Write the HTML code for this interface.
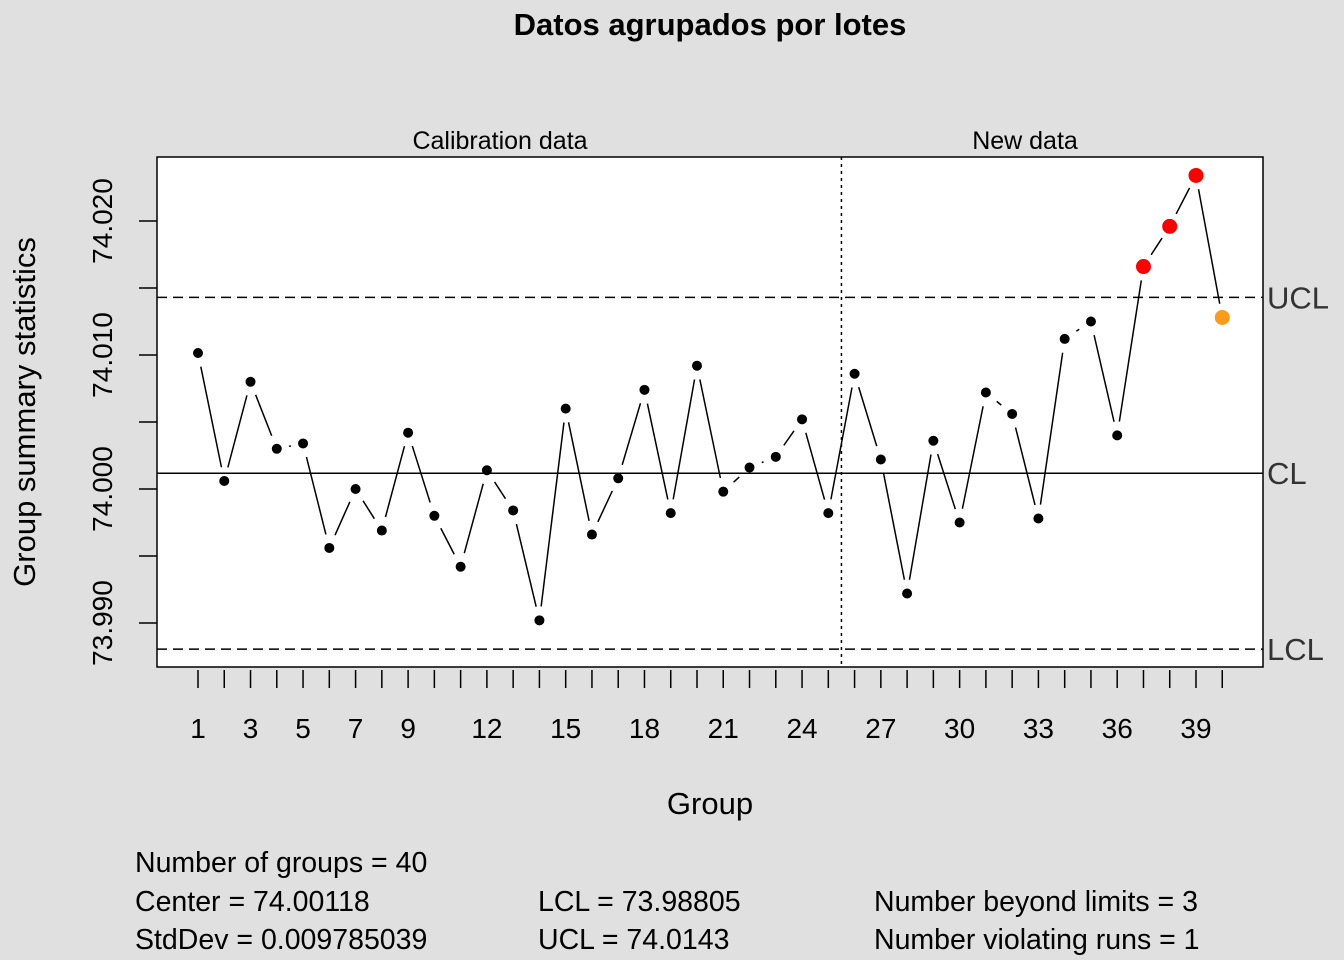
<!DOCTYPE html>
<html><head><meta charset="utf-8"><style>
body{margin:0;background:#e0e0e0;}
svg{display:block;font-family:"Liberation Sans",Arial,sans-serif;}
</style></head><body>
<svg id="chart" width="1344" height="960">
<rect width="1344" height="960" fill="#e0e0e0"/>
<text x="710" y="35" text-anchor="middle" font-size="31" font-weight="bold">Datos agrupados por lotes</text>
<rect x="157" y="157" width="1106" height="510" fill="#fff" stroke="#000" stroke-width="1.5"/>
<text x="500" y="149" text-anchor="middle" font-size="25">Calibration data</text>
<text x="1025" y="149" text-anchor="middle" font-size="25">New data</text>
<text x="710" y="814" text-anchor="middle" font-size="31">Group</text>
<text transform="translate(35,412) rotate(-90)" text-anchor="middle" font-size="31">Group summary statistics</text>
<g font-size="28.5">
<text x="135" y="872">Number of groups = 40</text>
<text x="135" y="911">Center = 74.00118</text>
<text x="135" y="949">StdDev = 0.009785039</text>
<text x="538" y="911">LCL = 73.98805</text>
<text x="538" y="949">UCL = 74.0143</text>
<text x="874" y="911">Number beyond limits = 3</text>
<text x="874" y="949">Number violating runs = 1</text>
</g>
<g id="marks"></g>
</svg>
<script>
const groups = Array.from({length:40},(_,i)=>i+1);
const values = [74.01015,74.0006,74.0080,74.0030,74.0034,73.9956,74.0000,73.9969,74.0042,73.9980,
73.9942,74.0014,73.9984,73.9902,74.0060,73.9966,74.0008,74.0074,73.9982,74.0092,
73.9998,74.0016,74.0024,74.0052,73.9982,74.0086,74.0022,73.9922,74.0036,73.9975,
74.0072,74.0056,73.9978,74.0112,74.0125,74.0040,74.0166,74.0196,74.0234,74.0128];
const pointStatus = Array(36).fill('ok').concat(['beyond','beyond','beyond','run']);
const limits = {ucl:74.0143, cl:74.00118, lcl:73.98805};
const yTicks = [73.990,74.000,74.010,74.020];
const yMinorTicks = [73.995,74.005,74.015];
const xTickLabels = [1,3,5,7,9,12,15,18,21,24,27,30,33,36,39];
const nCalib = 25;

const NS="http://www.w3.org/2000/svg";
const g=document.getElementById('marks');
const xs=i=>198+(i-1)*26.263;
const ys=v=>489-(v-74)*13400;
function el(t,a){const e=document.createElementNS(NS,t);for(const k in a)e.setAttribute(k,a[k]);g.appendChild(e);return e;}

[['ucl','UCL','4 4'],['cl','CL',null],['lcl','LCL','4 4']].forEach(([k,lab,d])=>{
  const y=ys(limits[k]);
  const l=el('line',{x1:157,x2:1263,y1:y,y2:y,stroke:'#000','stroke-width':1.5});
  if(d)l.setAttribute('stroke-dasharray','10 6');
  
  
  const t=el('text',{x:1267,y:y+11,'font-size':31,fill:'#333'});t.textContent=lab;
  
  
});
const sx=(xs(nCalib)+xs(nCalib+1))/2;
const sep=el('line',{x1:sx,x2:sx,y1:157,y2:667,stroke:'#000','stroke-width':1.5,'stroke-dasharray':'3 4'});


yTicks.forEach(v=>{
  const y=ys(v);
  const tk=el('line',{x1:139,x2:157,y1:y,y2:y,stroke:'#000','stroke-width':1.5});
  
  
  const t=el('text',{transform:`translate(112,${y}) rotate(-90)`,'text-anchor':'middle','font-size':28});
  t.textContent=v.toFixed(3);
  
  
});
yMinorTicks.forEach(v=>{
  const y=ys(v);
  const tk=el('line',{x1:139,x2:157,y1:y,y2:y,stroke:'#000','stroke-width':1.5});
  
  
});
groups.forEach(i=>{
  const tk=el('line',{x1:xs(i),x2:xs(i),y1:670,y2:688,stroke:'#000','stroke-width':1.5});
  
  
});
xTickLabels.forEach(i=>{
  const t=el('text',{x:xs(i),y:738,'text-anchor':'middle','font-size':28});
  t.textContent=i;
  
  
});
for(let i=0;i<values.length-1;i++){
  const x1=xs(groups[i]),y1=ys(values[i]),x2=xs(groups[i+1]),y2=ys(values[i+1]);
  const dx=x2-x1,dy=y2-y1,L=Math.hypot(dx,dy),gap=Math.min(14,L/2-1);
  if(L<4)continue;
  const s=el('line',{x1:x1+dx*gap/L,y1:y1+dy*gap/L,x2:x2-dx*gap/L,y2:y2-dy*gap/L,stroke:'#000','stroke-width':1.5});
  
  
}
values.forEach((v,i)=>{
  const st=pointStatus[i];
  const c=el('circle',{cx:xs(groups[i]),cy:ys(v),r:st==='ok'?5:7.5,fill:st==='beyond'?'#ff0000':st==='run'?'#ff9a1a':'#000'});
  
  
});
</script>
</body></html>
